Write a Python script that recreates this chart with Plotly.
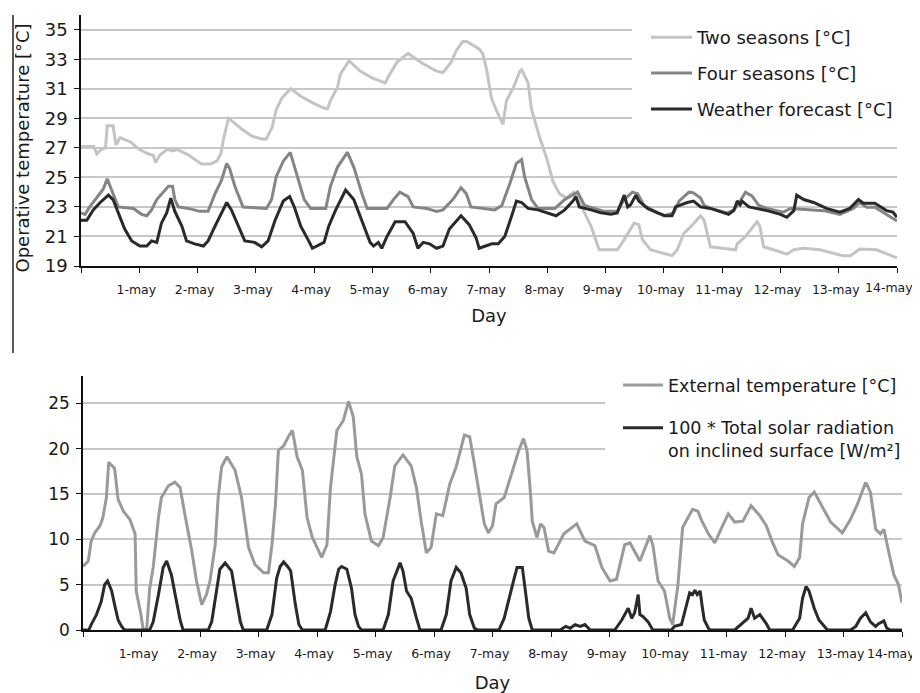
import plotly.graph_objects as go

# ---------------- data (day index from 30-Apr 00:00, value) ----------------
day_ticks = list(range(0, 15))
day_labels = [""] + [f"{d}-may" for d in range(1, 15)]

two_seasons = [(0, 27.1), (0.22, 27.1), (0.27, 26.6), (0.35, 26.9), (0.42, 27.0), (0.45, 28.5), (0.55, 28.5),
    (0.60, 27.2), (0.67, 27.7), (0.85, 27.4), (1.0, 26.9), (1.15, 26.6), (1.24, 26.5), (1.28, 26.0), (1.35, 26.5),
    (1.48, 26.9), (1.58, 26.8), (1.65, 26.9), (1.85, 26.5), (1.95, 26.2), (2.07, 25.9), (2.22, 25.9), (2.33, 26.1),
    (2.40, 26.6), (2.44, 27.5), (2.53, 29.0), (2.60, 28.8), (2.75, 28.3), (2.93, 27.8), (3.10, 27.6), (3.18, 27.6),
    (3.28, 28.4), (3.35, 29.6), (3.45, 30.4), (3.60, 31.0), (3.77, 30.5), (4.0, 30.0), (4.17, 29.7), (4.23, 29.65),
    (4.28, 30.2), (4.40, 31.1), (4.45, 32.0), (4.60, 32.9), (4.79, 32.2), (5.01, 31.7), (5.22, 31.4), (5.27, 31.8),
    (5.42, 32.8), (5.61, 33.4), (5.87, 32.7), (6.10, 32.2), (6.21, 32.1), (6.35, 32.8), (6.44, 33.6), (6.55, 34.2),
    (6.62, 34.2), (6.83, 33.7), (6.89, 33.4), (6.96, 32.3), (7.04, 30.4), (7.13, 29.5), (7.24, 28.6), (7.30, 30.2),
    (7.42, 31.1), (7.53, 32.2), (7.56, 32.3), (7.67, 31.4), (7.73, 29.6), (7.87, 27.7), (7.99, 26.3), (8.10, 24.7),
    (8.21, 23.9), (8.33, 23.6), (8.45, 24.0), (8.55, 23.4), (8.64, 22.6), (8.75, 21.7), (8.89, 20.1), (9.2, 20.1),
    (9.29, 20.6), (9.38, 21.2), (9.49, 21.9), (9.57, 21.8), (9.63, 20.8), (9.77, 20.1), (10.03, 19.8), (10.14, 19.7),
    (10.23, 20.1), (10.34, 21.2), (10.46, 21.65), (10.63, 22.4), (10.69, 22.1), (10.80, 20.3), (11.23, 20.1),
    (11.26, 20.5), (11.40, 21.0), (11.60, 22.0), (11.65, 21.65), (11.71, 20.3), (11.88, 20.1), (12.11, 19.8),
    (12.23, 20.1), (12.40, 20.2), (12.68, 20.1), (12.90, 19.9), (13.07, 19.7), (13.20, 19.7), (13.36, 20.15),
    (13.65, 20.1), (13.82, 19.85), (14.0, 19.55)]

four_seasons = [(0, 22.6), (0.07, 22.5), (0.15, 23.0), (0.24, 23.5), (0.38, 24.2), (0.45, 24.9), (0.50, 24.4),
    (0.55, 23.9), (0.64, 23.0), (0.90, 22.9), (1.04, 22.5), (1.13, 22.4), (1.21, 22.8), (1.30, 23.5), (1.41, 24.0),
    (1.50, 24.4), (1.57, 24.4), (1.61, 23.5), (1.67, 23.0), (1.84, 22.9), (2.04, 22.7), (2.18, 22.7), (2.30, 23.9),
    (2.41, 24.8), (2.50, 25.95), (2.55, 25.6), (2.64, 24.4), (2.78, 23.0), (3.18, 22.9), (3.27, 23.5), (3.35, 25.05),
    (3.47, 26.1), (3.59, 26.7), (3.69, 25.3), (3.83, 23.5), (3.94, 22.9), (4.20, 22.9), (4.28, 24.4), (4.40, 25.7),
    (4.57, 26.7), (4.68, 25.7), (4.82, 23.9), (4.91, 22.9), (5.25, 22.9), (5.36, 23.5), (5.47, 24.0), (5.61, 23.7),
    (5.70, 23.0), (5.93, 22.9), (6.10, 22.7), (6.21, 22.8), (6.38, 23.5), (6.52, 24.3), (6.61, 23.9), (6.69, 23.0),
    (7.10, 22.8), (7.22, 23.1), (7.36, 24.6), (7.47, 25.95), (7.56, 26.2), (7.61, 25.05), (7.73, 23.5), (7.84, 22.9),
    (8.13, 22.9), (8.30, 23.5), (8.52, 24.0), (8.64, 23.1), (8.98, 22.7), (9.20, 22.7), (9.32, 23.5), (9.46, 24.0),
    (9.55, 23.9), (9.66, 23.1), (10.00, 22.4), (10.17, 22.6), (10.26, 23.4), (10.43, 24.0), (10.50, 23.97),
    (10.63, 23.6), (10.69, 23.1), (10.80, 22.9), (11.09, 22.6), (11.20, 22.8), (11.28, 23.2), (11.40, 24.0),
    (11.51, 23.75), (11.63, 23.1), (11.77, 22.9), (12.05, 22.65), (12.17, 22.9), (12.74, 22.75), (13.02, 22.5),
    (13.25, 22.9), (13.36, 23.3), (13.48, 22.98), (13.62, 22.98), (13.82, 22.5), (14.0, 22.05)]

weather_forecast = [(0, 22.1), (0.1, 22.1), (0.21, 22.8), (0.33, 23.3), (0.47, 23.8), (0.55, 23.5), (0.64, 22.6),
    (0.75, 21.5), (0.87, 20.7), (1.01, 20.35), (1.13, 20.35), (1.21, 20.7), (1.30, 20.6), (1.38, 21.9), (1.47, 22.6),
    (1.54, 23.6), (1.61, 22.7), (1.73, 21.7), (1.81, 20.7), (1.95, 20.5), (2.10, 20.35), (2.18, 20.7), (2.30, 21.7),
    (2.41, 22.6), (2.50, 23.3), (2.58, 22.8), (2.70, 21.7), (2.81, 20.7), (2.98, 20.6), (3.10, 20.3), (3.21, 20.7),
    (3.33, 22.1), (3.47, 23.4), (3.58, 23.7), (3.66, 23.0), (3.77, 21.7), (3.92, 20.6), (3.97, 20.2), (4.17, 20.6),
    (4.25, 21.7), (4.37, 22.8), (4.54, 24.15), (4.68, 23.5), (4.82, 22.1), (4.96, 20.6), (5.02, 20.35), (5.10, 20.6),
    (5.16, 20.2), (5.25, 21.0), (5.39, 22.0), (5.56, 22.0), (5.70, 21.2), (5.78, 20.2), (5.87, 20.6), (5.98, 20.5),
    (6.10, 20.2), (6.21, 20.35), (6.32, 21.5), (6.52, 22.4), (6.66, 21.8), (6.78, 20.9), (6.83, 20.2), (7.05, 20.5),
    (7.16, 20.5), (7.27, 21.0), (7.39, 22.4), (7.47, 23.4), (7.56, 23.3), (7.67, 22.9), (7.84, 22.8), (8.07, 22.5),
    (8.15, 22.4), (8.30, 22.8), (8.44, 23.4), (8.49, 23.7), (8.55, 23.0), (8.75, 22.8), (8.92, 22.6), (9.09, 22.5),
    (9.20, 22.6), (9.32, 23.8), (9.38, 23.0), (9.43, 23.15), (9.52, 23.8), (9.57, 23.4), (9.72, 22.9), (9.89, 22.6),
    (10.03, 22.4), (10.14, 22.4), (10.20, 23.0), (10.40, 23.3), (10.51, 23.4), (10.63, 23.0), (10.80, 22.9),
    (11.11, 22.5), (11.20, 22.75), (11.26, 23.4), (11.31, 23.15), (11.34, 23.4), (11.46, 23.0), (11.77, 22.75),
    (12.00, 22.5), (12.11, 22.3), (12.23, 22.75), (12.28, 23.8), (12.40, 23.5), (12.57, 23.3), (12.79, 22.9),
    (13.02, 22.65), (13.19, 22.9), (13.34, 23.5), (13.42, 23.25), (13.62, 23.25), (13.82, 22.75), (13.93, 22.65),
    (14.0, 22.3)]

external_temp = [(0, 7.0), (0.09, 7.6), (0.14, 9.8), (0.2, 10.7), (0.29, 11.5), (0.34, 12.4), (0.40, 14.6),
    (0.44, 18.5), (0.54, 17.8), (0.60, 14.4), (0.69, 13.1), (0.80, 12.2), (0.89, 10.6), (0.91, 4.3), (0.99, 1.7),
    (1.03, 0.0), (1.09, 0.2), (1.14, 4.6), (1.20, 6.9), (1.29, 12.4), (1.34, 14.6), (1.46, 15.9), (1.57, 16.3),
    (1.66, 15.7), (1.74, 12.8), (1.86, 8.7), (1.94, 5.4), (2.03, 2.8), (2.11, 3.9), (2.17, 5.4), (2.26, 9.4),
    (2.31, 14.6), (2.37, 18.0), (2.46, 19.1), (2.60, 17.6), (2.71, 14.6), (2.83, 9.1), (2.94, 7.2), (3.09, 6.3),
    (3.17, 6.3), (3.23, 9.4), (3.29, 13.9), (3.34, 19.8), (3.43, 20.3), (3.51, 21.3), (3.58, 22.0), (3.66, 19.1),
    (3.75, 17.6), (3.83, 12.4), (3.92, 10.2), (4.00, 9.1), (4.08, 8.0), (4.17, 9.4), (4.23, 15.7), (4.34, 22.0),
    (4.45, 23.1), (4.54, 25.2), (4.62, 23.5), (4.68, 19.1), (4.76, 17.2), (4.82, 12.8), (4.93, 9.8), (5.05, 9.3),
    (5.13, 10.2), (5.25, 14.6), (5.33, 18.1), (5.47, 19.3), (5.61, 18.1), (5.70, 15.7), (5.78, 12.0), (5.87, 8.5),
    (5.95, 9.1), (6.04, 12.8), (6.15, 12.6), (6.27, 16.1), (6.38, 18.0), (6.52, 21.5), (6.61, 21.3), (6.69, 18.3),
    (6.78, 14.6), (6.86, 11.7), (6.93, 10.7), (7.00, 11.5), (7.06, 13.9), (7.20, 14.6), (7.31, 16.9), (7.45, 19.8),
    (7.53, 21.1), (7.59, 19.8), (7.65, 15.0), (7.68, 12.0), (7.76, 10.2), (7.82, 11.7), (7.88, 11.3), (7.96, 8.7),
    (8.05, 8.5), (8.22, 10.6), (8.44, 11.7), (8.58, 9.8), (8.75, 9.3), (8.87, 6.9), (9.01, 5.4), (9.12, 5.6),
    (9.26, 9.4), (9.35, 9.6), (9.52, 7.6), (9.63, 9.4), (9.69, 10.4), (9.74, 9.4), (9.83, 5.4), (9.94, 4.3),
    (10.03, 1.3), (10.08, 0.6), (10.17, 5.0), (10.25, 11.3), (10.34, 12.4), (10.42, 13.3), (10.51, 13.1),
    (10.58, 12.0), (10.69, 10.6), (10.80, 9.6), (10.92, 11.3), (11.03, 12.8), (11.14, 11.9), (11.28, 12.0),
    (11.42, 13.7), (11.57, 12.6), (11.68, 11.5), (11.79, 9.6), (11.88, 8.3), (12.05, 7.6), (12.16, 7.0),
    (12.25, 8.0), (12.30, 11.7), (12.41, 14.6), (12.50, 15.2), (12.64, 13.5), (12.78, 11.9), (12.98, 10.7),
    (13.12, 12.2), (13.24, 13.9), (13.38, 16.3), (13.46, 15.2), (13.55, 11.1), (13.63, 10.6), (13.69, 11.1),
    (13.77, 8.7), (13.86, 6.1), (13.94, 5.0), (14.0, 3.0)]

solar_x100 = [(0, 0), (0.10, 0), (0.14, 0.6), (0.23, 1.7), (0.31, 3.1), (0.37, 5.0), (0.42, 5.4), (0.49, 4.3),
    (0.54, 2.8), (0.60, 1.1), (0.66, 0.4), (0.71, 0),
    (1.14, 0), (1.20, 0.9), (1.29, 3.9), (1.37, 6.9), (1.43, 7.6), (1.51, 6.1), (1.60, 3.1), (1.66, 1.1), (1.71, 0),
    (2.14, 0), (2.20, 0.9), (2.29, 5.0), (2.34, 6.7), (2.43, 7.4), (2.54, 6.5), (2.63, 3.1), (2.69, 0.9), (2.74, 0),
    (3.14, 0), (3.23, 1.7), (3.31, 5.7), (3.37, 7.0), (3.43, 7.5), (3.51, 6.9), (3.55, 6.5), (3.63, 2.8),
    (3.69, 0.6), (3.75, 0),
    (4.14, 0), (4.23, 2.0), (4.31, 5.0), (4.37, 6.7), (4.42, 7.0), (4.51, 6.7), (4.59, 4.6), (4.65, 1.7),
    (4.71, 0.4), (4.76, 0),
    (5.13, 0), (5.22, 1.7), (5.30, 5.4), (5.42, 7.4), (5.47, 6.5), (5.53, 4.3), (5.61, 3.5), (5.70, 1.3), (5.76, 0),
    (6.12, 0), (6.21, 1.7), (6.29, 5.4), (6.38, 6.9), (6.46, 6.3), (6.55, 4.6), (6.61, 1.7), (6.69, 0.2), (6.75, 0),
    (7.11, 0), (7.20, 1.3), (7.28, 3.5), (7.37, 5.7), (7.42, 6.9), (7.51, 6.9), (7.57, 3.9), (7.62, 1.3), (7.68, 0),
    (8.16, 0), (8.25, 0.4), (8.33, 0.2), (8.41, 0.6), (8.50, 0.4), (8.58, 0.6), (8.67, 0),
    (9.09, 0), (9.21, 1.1), (9.32, 2.4), (9.38, 1.3), (9.43, 1.9), (9.49, 3.9), (9.52, 1.7), (9.57, 1.5),
    (9.66, 0.9), (9.74, 0),
    (10.06, 0), (10.11, 0.4), (10.23, 0.6), (10.31, 2.8), (10.37, 4.1), (10.42, 3.9), (10.46, 4.4), (10.50, 3.9),
    (10.55, 4.3), (10.58, 2.8), (10.62, 1.1), (10.69, 0.2), (10.72, 0),
    (11.14, 0), (11.25, 0.6), (11.37, 1.3), (11.42, 2.4), (11.48, 1.3), (11.57, 1.7), (11.68, 0.7), (11.74, 0),
    (12.13, 0), (12.25, 1.3), (12.30, 3.5), (12.36, 4.8), (12.41, 4.3), (12.50, 2.4), (12.58, 1.1), (12.70, 0.2),
    (12.73, 0),
    (13.12, 0), (13.21, 0.4), (13.29, 1.3), (13.38, 1.9), (13.46, 0.9), (13.55, 0.4), (13.60, 0.7), (13.69, 1.0),
    (13.74, 0.2), (13.80, 0), (14.0, 0)]

top_yticks = list(range(19, 36, 2))
bottom_yticks = list(range(0, 26, 5))

# ---------------- figure ----------------
# page body has an 8px margin: the figure occupies the window from (8, 8)
OFF = 8
W, H = 920 - OFF, 693 - OFF
FONT = "DejaVu Sans"
TXT = "#1a1a1a"


def px(x):
    return (x - OFF) / W


def py(y):
    return 1 - (y - OFF) / H


def xs(s):
    return [p[0] for p in s]


def ys(s):
    return [p[1] for p in s]


fig = go.Figure()
top = [("Two seasons [°C]", two_seasons, "#c4c4c4"),
       ("Four seasons [°C]", four_seasons, "#858585"),
       ("Weather forecast [°C]", weather_forecast, "#2a2a2a")]
for name, s, col in top:
    fig.add_trace(go.Scatter(x=xs(s), y=ys(s), mode="lines", name=name, legendgroup=name,
                             line=dict(color=col, width=3), xaxis="x", yaxis="y", legend="legend"))

bottom = [("External temperature [°C]", external_temp, "#9a9a9a"),
          ("100 * Total solar radiation<br>on inclined surface [W/m²]", solar_x100, "#2a2a2a")]
for name, s, col in bottom:
    fig.add_trace(go.Scatter(x=xs(s), y=ys(s), mode="lines", name=name, legendgroup=name,
                             line=dict(color=col, width=3), xaxis="x2", yaxis="y2", legend="legend2"))

axis_common = dict(showline=True, linecolor="#111", linewidth=1.5, ticks="outside", ticklen=5,
                   tickcolor="#111", tickwidth=1.2, zeroline=False, automargin=False)

# last day label is drawn as an annotation kept inside the page (right-aligned)
xcommon = dict(axis_common, range=[0, 14], tickmode="array", tickvals=day_ticks,
               ticktext=day_labels[:-1] + [""],
               showgrid=False, tickfont=dict(family=FONT, size=12.5, color=TXT),
               ticklabeloverflow="allow", ticklabelstandoff=6, ticklabelshift=-3)

fig.update_layout(
    width=W, height=H,
    margin=dict(l=0, r=0, t=0, b=0, autoexpand=False),
    paper_bgcolor="white", plot_bgcolor="white",
    font=dict(family=FONT, color=TXT),
    xaxis=dict(xcommon, domain=[px(81), px(897)], anchor="y",
               title=dict(text="Day", font=dict(family=FONT, size=18, color=TXT), standoff=14)),
    yaxis=dict(axis_common, domain=[py(266), py(15)], anchor="x", range=[19, 36],
               tickmode="array", tickvals=top_yticks, showgrid=True, gridcolor="#c8c8c8", gridwidth=1.5,
               tickfont=dict(family=FONT, size=18, color=TXT), ticklabelstandoff=3),
    xaxis2=dict(xcommon, domain=[px(83), px(902)], anchor="y2",
                title=dict(text="Day", font=dict(family=FONT, size=18, color=TXT), standoff=18)),
    yaxis2=dict(axis_common, domain=[py(630), py(376)], anchor="x2", range=[0, 28],
                tickmode="array", tickvals=bottom_yticks, showgrid=True, gridcolor="#c8c8c8", gridwidth=1.5,
                tickfont=dict(family=FONT, size=17, color=TXT), ticklabelstandoff=3),
    legend=dict(x=px(632), y=py(5), xanchor="left", yanchor="top", bgcolor="white",
                bordercolor="white", borderwidth=14,
                font=dict(family=FONT, size=18, color=TXT), tracegroupgap=9.5, itemwidth=41,
                traceorder="grouped"),
    legend2=dict(x=px(605), y=py(354), xanchor="left", yanchor="top", bgcolor="white",
                 bordercolor="white", borderwidth=13,
                 font=dict(family=FONT, size=17.5, color=TXT), tracegroupgap=17, itemwidth=40,
                 valign="top", traceorder="grouped"),
    showlegend=True,
    shapes=[dict(type="line", xref="paper", yref="paper", x0=px(13), x1=px(13), y0=py(15), y1=py(353),
                 line=dict(color="#222", width=1.5))],
    annotations=[
        dict(text="Operative temperature [°C]", textangle=-90, x=px(22.5), y=py(148), xref="paper",
             yref="paper", xanchor="center", yanchor="middle", showarrow=False,
             font=dict(family=FONT, size=18, color=TXT)),
        dict(text=day_labels[-1], x=day_ticks[-1], xref="x", y=py(288), yref="paper", xanchor="right",
             yanchor="middle", xshift=18, showarrow=False, font=dict(family=FONT, size=12.5, color=TXT)),
        dict(text=day_labels[-1], x=day_ticks[-1], xref="x2", y=py(653), yref="paper", xanchor="right",
             yanchor="middle", xshift=15, showarrow=False, font=dict(family=FONT, size=12.5, color=TXT)),
    ],
)

fig.write_html("out.html")
